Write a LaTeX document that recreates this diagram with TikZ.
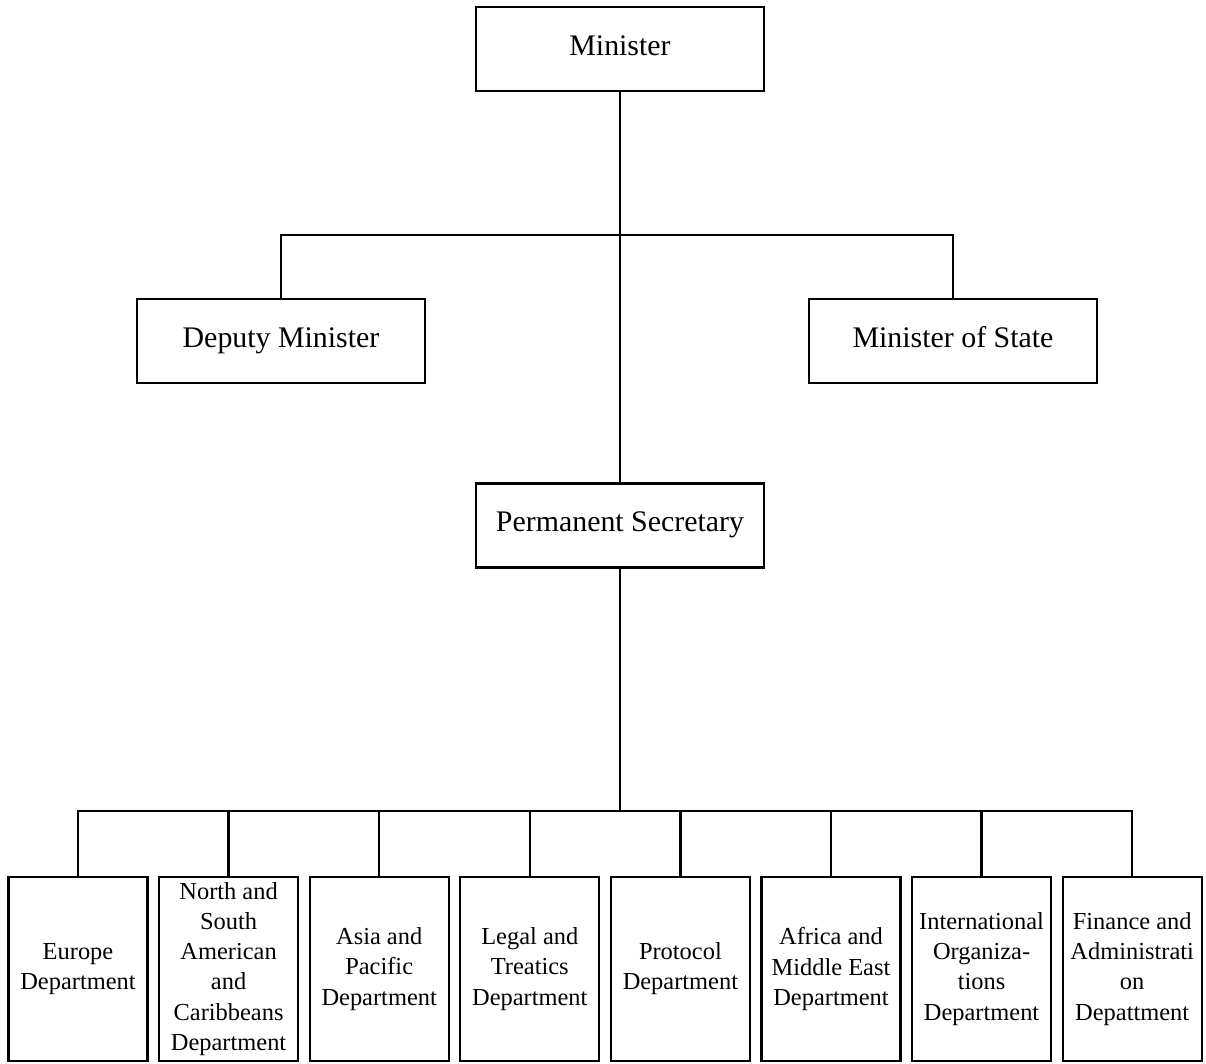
\documentclass[tikz,border=0pt]{standalone}
\usepackage{fontspec}
\setmainfont{Liberation Serif}
\usepackage{tikz}
\usetikzlibrary{calc}
\tikzset{
  topbox/.style={draw, line width=1.3pt, minimum width=5.76cm, minimum height=1.68cm,
    text height=2.2ex, text depth=0.6ex, font=\fontsize{17}{20}\selectfont},
  depbox/.style={draw, line width=1.3pt, minimum width=2.78cm, minimum height=3.68cm,
    align=center, inner sep=1pt, font=\fontsize{13.9}{17.2}\selectfont},
  link/.style={line width=1.3pt}
}

\begin{document}
\begin{tikzpicture}
\useasboundingbox (0,0) rectangle (24.12,-21.28);

\node[topbox] (minister) at (12.4,-0.98) {Minister};
\node[topbox] (deputy) at (5.62,-6.82) {Deputy Minister};
\node[topbox] (state) at (19.06,-6.82) {Minister of State};
\node[topbox] (secretary) at (12.4,-10.51) {Permanent Secretary};

% departments
\foreach \txt [count=\i] in {
  {Europe\\Department},
  {North and\\South\\American\\and\\Caribbeans\\Department},
  {Asia and\\Pacific\\Department},
  {Legal and\\Treatics\\Department},
  {Protocol\\Department},
  {Africa and\\Middle East\\Department},
  {International\\Organiza-\\tions\\Department},
  {Finance and\\Administrati\\on\\Depattment}}
  \node[depbox] (dep\i) at ({1.56+3.012*(\i-1)},-19.38) {\txt};

\coordinate (topbus) at (12.4,-4.7);
\coordinate (lowbus) at (12.4,-16.22);

\draw[link] (minister) -- (secretary);
\draw[link] (deputy.north) |- (topbus) -| (state.north);
\draw[link] (secretary.south) -- (lowbus);
\foreach \i in {1,...,8}
  \draw[link] (lowbus) -| (dep\i.north);
\end{tikzpicture}
\end{document}
